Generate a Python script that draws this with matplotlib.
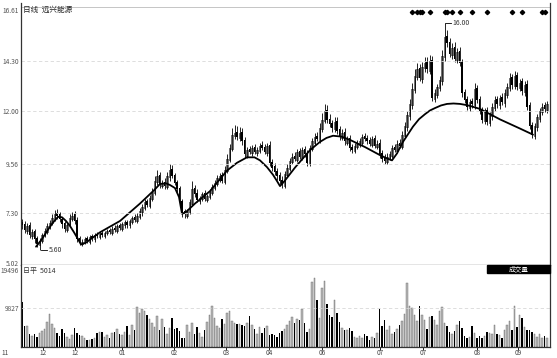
import matplotlib
matplotlib.use("Agg")
import matplotlib.pyplot as plt
import numpy as np

plt.rcParams['font.family'] = ['Noto Sans CJK SC', 'DejaVu Sans']

# daily candles (index = trading day)
opens = [6.90, 6.80, 6.50, 6.75, 6.25, 6.50, 6.15, 5.85, 6.05, 6.30,
         6.45, 6.70, 6.85, 7.05, 7.30, 7.25, 7.05, 6.85, 6.55, 6.80,
         7.05, 7.25, 7.00, 6.15, 5.90, 6.00, 6.15, 6.00, 6.25, 6.10,
         6.35, 6.20, 6.40, 6.25, 6.40, 6.55, 6.40, 6.65, 6.50, 6.75,
         6.60, 6.75, 6.90, 6.75, 6.90, 7.15, 6.95, 7.15, 7.35, 7.55,
         7.85, 7.65, 7.95, 8.25, 8.75, 9.05, 8.55, 8.75, 8.50, 8.95,
         9.35, 9.05, 8.75, 8.45, 7.85, 7.40, 7.20, 7.35, 7.75, 8.45,
         8.25, 7.85, 7.95, 8.25, 7.90, 8.05, 8.25, 8.45, 8.65, 8.85,
         9.05, 8.75, 9.25, 9.75, 10.25, 10.85, 11.05, 10.75, 11.05, 10.65,
         9.95, 10.25, 10.05, 10.35, 10.05, 10.15, 10.45, 10.35, 10.05, 10.45,
         9.65, 9.45, 9.25, 9.05, 8.85, 8.55, 9.05, 9.35, 9.65, 9.95,
         9.75, 10.15, 9.85, 10.25, 10.05, 9.55, 10.25, 10.55, 10.85, 10.65,
         11.15, 11.55, 12.05, 11.65, 11.45, 11.15, 11.55, 11.15, 10.75, 11.05,
         10.55, 10.75, 10.35, 10.15, 10.35, 10.45, 10.55, 10.85, 10.75, 10.65,
         10.45, 10.75, 10.35, 10.55, 10.05, 9.85, 9.65, 9.85, 9.95, 10.35,
         10.15, 10.55, 10.35, 10.85, 11.25, 11.75, 12.25, 12.95, 13.55, 13.95,
         13.45, 13.95, 14.25, 13.85, 14.35, 12.55, 12.75, 13.05, 13.35, 14.45,
         15.45, 15.15, 14.55, 14.95, 14.35, 14.75, 14.25, 12.85, 12.55, 12.15,
         12.45, 12.25, 13.05, 12.55, 12.05, 11.55, 12.05, 11.45, 11.75, 12.15,
         12.55, 12.25, 12.65, 12.35, 12.75, 13.05, 13.55, 13.15, 13.65, 13.05,
         13.35, 12.85, 13.25, 12.25, 11.35, 10.85, 11.25, 11.65, 11.95, 12.25, 12.05]
closes = [6.75, 6.55, 6.70, 6.30, 6.45, 6.10, 5.90, 6.05, 6.30, 6.50,
          6.70, 6.85, 7.10, 7.25, 7.20, 7.05, 6.80, 6.60, 6.75, 7.10,
          7.20, 6.95, 6.10, 5.95, 6.00, 6.10, 6.05, 6.20, 6.15, 6.30,
          6.25, 6.35, 6.30, 6.40, 6.50, 6.45, 6.60, 6.55, 6.70, 6.65,
          6.80, 6.90, 6.75, 6.95, 7.10, 7.00, 7.20, 7.40, 7.60, 7.80,
          7.70, 8.00, 8.30, 8.80, 9.00, 8.60, 8.70, 8.55, 9.00, 9.30,
          9.00, 8.70, 8.40, 7.80, 7.30, 7.25, 7.40, 7.80, 8.40, 8.20,
          7.90, 8.00, 8.20, 7.95, 8.10, 8.30, 8.50, 8.70, 8.90, 9.00,
          8.80, 9.30, 9.80, 10.30, 10.90, 11.00, 10.80, 11.00, 10.60, 10.00,
          10.20, 10.10, 10.30, 10.10, 10.20, 10.40, 10.30, 10.10, 10.40, 9.60,
          9.40, 9.20, 9.00, 8.80, 8.60, 9.10, 9.40, 9.70, 9.90, 9.80,
          10.10, 9.90, 10.20, 10.00, 9.60, 10.30, 10.60, 10.80, 10.70, 11.20,
          11.60, 12.00, 11.60, 11.40, 11.20, 11.50, 11.10, 10.80, 11.00, 10.60,
          10.70, 10.30, 10.20, 10.40, 10.50, 10.60, 10.80, 10.70, 10.60, 10.50,
          10.70, 10.40, 10.50, 10.00, 9.80, 9.70, 9.90, 10.00, 10.30, 10.20,
          10.50, 10.40, 10.90, 11.30, 11.80, 12.30, 13.00, 13.60, 13.90, 13.50,
          14.00, 14.20, 13.90, 14.30, 12.60, 12.80, 13.10, 13.40, 14.50, 15.40,
          15.10, 14.60, 14.90, 14.40, 14.70, 14.20, 12.80, 12.50, 12.20, 12.40,
          12.30, 13.00, 12.50, 12.00, 11.60, 12.00, 11.50, 11.80, 12.20, 12.50,
          12.30, 12.60, 12.40, 12.80, 13.10, 13.50, 13.20, 13.60, 13.10, 13.30,
          12.90, 13.20, 12.20, 11.30, 10.90, 11.30, 11.70, 12.00, 12.20, 12.10, 12.30]
highs = [7.05, 6.95, 6.85, 6.90, 6.60, 6.60, 6.25, 6.15, 6.40, 6.65,
         6.85, 7.00, 7.25, 7.45, 7.50, 7.35, 7.15, 6.95, 6.90, 7.25,
         7.35, 7.40, 7.15, 6.25, 6.10, 6.20, 6.25, 6.30, 6.35, 6.40,
         6.45, 6.45, 6.50, 6.50, 6.60, 6.65, 6.70, 6.75, 6.80, 6.85,
         6.90, 7.00, 7.00, 7.05, 7.20, 7.25, 7.30, 7.55, 7.75, 7.95,
         7.95, 8.15, 8.45, 9.00, 9.30, 9.20, 8.85, 8.90, 9.20, 9.55,
         9.50, 9.15, 8.85, 8.55, 7.95, 7.50, 7.50, 7.95, 8.80, 8.60,
         8.40, 8.10, 8.30, 8.35, 8.20, 8.40, 8.65, 8.85, 9.05, 9.15,
         9.20, 9.45, 10.00, 10.50, 11.20, 11.35, 11.30, 11.25, 11.20, 10.80,
         10.35, 10.40, 10.45, 10.50, 10.35, 10.55, 10.60, 10.50, 10.55, 10.60,
         9.80, 9.60, 9.40, 9.20, 9.00, 9.25, 9.55, 9.85, 10.05, 10.10,
         10.25, 10.30, 10.35, 10.40, 10.20, 10.45, 10.75, 11.00, 11.05, 11.45,
         11.90, 12.30, 12.25, 11.85, 11.60, 11.70, 11.70, 11.30, 11.15, 11.20,
         10.85, 10.90, 10.50, 10.55, 10.65, 10.75, 10.95, 11.00, 10.90, 10.80,
         10.85, 10.90, 10.65, 10.70, 10.20, 10.00, 10.05, 10.15, 10.45, 10.50,
         10.65, 10.70, 11.10, 11.50, 12.00, 12.55, 13.30, 13.90, 14.20, 14.15,
         14.25, 14.45, 14.45, 14.55, 14.50, 13.00, 13.25, 13.60, 14.80, 16.00,
         15.70, 15.35, 15.10, 15.15, 14.90, 14.95, 14.40, 13.00, 12.70, 12.55,
         12.60, 13.30, 13.20, 12.70, 12.20, 12.15, 12.20, 11.95, 12.35, 12.70,
         12.70, 12.75, 12.80, 13.00, 13.30, 13.75, 13.70, 13.85, 13.80, 13.45,
         13.50, 13.35, 13.40, 12.40, 11.50, 11.45, 11.85, 12.15, 12.35, 12.40, 12.45]
lows = [6.60, 6.40, 6.35, 6.15, 6.10, 5.95, 5.75, 5.60, 5.95, 6.20,
        6.35, 6.60, 6.75, 6.95, 7.05, 6.90, 6.65, 6.45, 6.45, 6.70,
        6.95, 6.80, 6.00, 5.85, 5.80, 5.90, 5.95, 5.90, 6.05, 6.00,
        6.15, 6.10, 6.20, 6.15, 6.30, 6.35, 6.30, 6.45, 6.40, 6.55,
        6.50, 6.65, 6.65, 6.65, 6.80, 6.90, 6.85, 7.05, 7.20, 7.45,
        7.60, 7.55, 7.85, 8.15, 8.60, 8.45, 8.45, 8.40, 8.40, 8.80,
        8.90, 8.60, 8.30, 7.65, 7.15, 7.10, 7.10, 7.25, 7.65, 8.05,
        7.80, 7.75, 7.85, 7.85, 7.80, 7.95, 8.15, 8.35, 8.55, 8.75,
        8.70, 8.65, 9.15, 9.65, 10.15, 10.70, 10.65, 10.60, 10.45, 9.85,
        9.85, 10.00, 9.95, 10.00, 9.95, 10.05, 10.20, 10.00, 9.95, 9.45,
        9.25, 9.05, 8.85, 8.65, 8.45, 8.45, 8.95, 9.25, 9.55, 9.70,
        9.65, 9.80, 9.75, 9.90, 9.45, 9.45, 10.15, 10.45, 10.60, 10.55,
        11.05, 11.45, 11.45, 11.25, 11.05, 11.05, 10.95, 10.65, 10.65, 10.45,
        10.45, 10.15, 10.05, 10.05, 10.25, 10.35, 10.45, 10.60, 10.50, 10.40,
        10.35, 10.30, 10.25, 9.85, 9.65, 9.55, 9.55, 9.75, 9.85, 10.10,
        10.05, 10.30, 10.25, 10.75, 11.10, 11.60, 12.10, 12.80, 13.40, 13.35,
        13.30, 13.80, 13.75, 13.70, 12.45, 12.40, 12.60, 12.90, 13.20, 14.30,
        14.95, 14.45, 14.40, 14.25, 14.20, 14.05, 12.65, 12.35, 12.05, 12.00,
        12.15, 12.10, 12.35, 11.85, 11.45, 11.40, 11.35, 11.30, 11.60, 12.00,
        12.15, 12.10, 12.25, 12.20, 12.60, 12.90, 13.00, 13.00, 12.95, 12.90,
        12.75, 12.70, 12.05, 11.15, 10.75, 10.70, 11.10, 11.50, 11.80, 11.95, 11.90]
volumes = [11450, 5200, 5400, 3300, 2800, 3300, 2500, 3500, 4000, 4500, 6400,
           8300, 5800, 4800, 3600, 2800, 4500, 3600, 2500, 2000, 3000,
           4900, 3600, 3000, 2800, 2200, 1800, 1700, 2000, 2400, 3500,
           3800, 3900, 2600, 3000, 2200, 3500, 3800, 4500, 3400, 3000,
           3800, 5300, 3000, 5600, 4200, 10200, 8500, 9500, 9000, 8000,
           7000, 6200, 5000, 7800, 4200, 7200, 5000, 3200, 4800, 7300,
           4500, 4700, 4000, 2200, 2300, 5600, 3800, 6000, 3400, 5000,
           3500, 2500, 4200, 6300, 8000, 10300, 7400, 5300, 4800,
           7000, 5800, 8500, 9000, 6500, 6000, 5800, 5800, 5600, 5400,
           6200, 7800, 5600, 4500, 3400, 5000, 3600, 4700, 5200, 3000,
           3200, 3000, 2600, 3500, 4000, 4500, 5600, 6500, 7600, 6200,
           7000, 6800, 9500, 6200, 3700, 4500, 16500, 17500, 12000, 7400,
           15000, 16800, 11000, 8000, 7500, 12000, 8500, 6300, 4800, 4400,
           4300, 4800, 4000, 2500, 2200, 2800, 2200, 3300, 2700, 1800,
           2600, 2200, 3500, 9500, 5200, 6900, 4300, 5300, 3200, 3800,
           4500, 5600, 6500, 8300, 16300, 10500, 9800, 8200, 6500, 10300,
           8000, 6800, 4600, 7500, 7800, 6800, 5500, 9000, 10200, 6000,
           5400, 3800, 3300, 4000, 5600, 6500, 4800, 2800, 2300, 2500,
           5200, 3500, 2400, 2800, 2300, 2700, 3800, 3500, 3300, 5500,
           3300, 3000, 2400, 4300, 5500, 6500, 4300, 10500, 5000, 8000,
           7400, 5000, 4300, 4400, 3700, 3200, 2600, 3200, 2200, 2800, 2400]

# smooth black trend curve (day index, price)
curve_x = [5.6, 8, 10, 12.2, 14.4, 16, 17.6, 19.2, 20.8, 22.4, 23.6, 25.5, 31.2,
           39.2, 47.2, 53, 55.2, 57.5, 59.2, 61.2, 62.8, 64, 65.5, 69.2, 75.2, 82,
           86, 90, 93, 95.2, 98, 100.4, 102, 103.2, 105, 109.2, 115.2, 119.2,
           121.8, 124.4, 127.8, 131.2, 137.2, 143.2, 146, 148, 150, 152.4, 156.4,
           158.8, 161.2, 163.2, 165.2, 167.6, 170, 172.6, 175.2, 177.2, 179.2,
           183.2, 191.2, 199.2, 204.4]
curve_y = [5.77, 6.12, 6.48, 6.85, 7.14, 7.12, 6.95, 6.72, 6.43, 6.12, 5.87,
           5.95, 6.43, 6.95, 7.75, 8.38, 8.65, 8.68, 8.60, 8.46, 8.05, 7.28,
           7.35, 7.75, 8.32, 9.26, 9.62, 9.87, 9.87, 9.73, 9.42, 9.07, 8.78, 8.55,
           8.78, 9.40, 10.20, 10.58, 10.76, 10.86, 10.82, 10.67, 10.34, 9.97,
           9.82, 9.73, 10.05, 10.58, 11.28, 11.62, 11.85, 12.02, 12.13, 12.25,
           12.32, 12.34, 12.32, 12.28, 12.23, 12.09, 11.61, 11.19, 10.91]

signal_days = [156, 158, 159, 160, 163, 169, 170, 172, 175, 180, 186, 196, 200, 208, 209]

price_ticks = [16.61, 14.30, 12.00, 9.56, 7.30, 5.02]
vol_ticks = [19496, 9827]
month_pos = [-6.8, 8.4, 21.2, 40, 60.8, 81.6, 98.8, 120, 143.2, 160.4, 182, 198.4]
month_labels = ['11', '12', '12', '01', '02', '03', '04', '06', '07', '07', '08', '09']

W, H = 557, 358
fig = plt.figure(figsize=(W / 100, H / 100), dpi=100)

def frac(x0, y0, x1, y1):
    return [x0 / W, 1 - y1 / H, (x1 - x0) / W, (y1 - y0) / H]

ax = fig.add_axes(frac(21, 3, 550, 265))
axv = fig.add_axes(frac(21, 265, 550, 347), sharex=ax)

idx = np.arange(len(closes))
o = np.array(opens); c = np.array(closes)
up = c >= o
body_w = 0.62

ax.vlines(idx, lows, highs, color='black', lw=0.6)
ax.bar(idx[up], (c - o)[up], bottom=o[up], width=body_w, facecolor='white',
       edgecolor='black', lw=0.4)
ax.bar(idx[~up], (o - c)[~up], bottom=c[~up], width=body_w, color='black', lw=0)
ax.plot(curve_x, curve_y, color='black', lw=1.3, solid_capstyle='round',
        solid_joinstyle='round')

ax.plot(signal_days, [16.55] * len(signal_days), 'D', color='black', ms=2.2)

# extreme labels
ax.plot([7.5, 10], [5.60, 5.60], color='black', lw=0.6)
ax.text(10.6, 5.60, '5.60', fontsize=5, va='center', color='#333333')
ax.plot([169, 169, 171.5], [16.00, 16.05, 16.05], color='black', lw=0.6)
ax.text(172, 16.05, '16.00', fontsize=5, va='center', color='#333333')

ax.set_xlim(-0.4, 211.2)
ax.set_ylim(4.93, 16.95)
ax.set_yticks(price_ticks)
ax.set_yticklabels(['%.2f' % v for v in price_ticks])
ax.axhline(16.75, color='#bbbbbb', lw=0.6)
for v in price_ticks[1:5]:
    ax.axhline(v, color='#d8d8d8', lw=0.6, ls=(0, (4, 3)))
ax.tick_params(axis='y', length=0, labelsize=4.8, labelcolor='#555555', pad=1.5)
ax.tick_params(axis='x', length=0, labelbottom=False)
ax.spines['top'].set_visible(False)
for s in ['left', 'right', 'bottom']:
    ax.spines[s].set_color('#333333')
    ax.spines[s].set_linewidth(0.9)

ax.text(0.5, 16.65, '日线  远兴能源', fontsize=5.5, va='center', color='#222222')

# volume panel
v = np.array(volumes)
axv.bar(idx[up], v[up], width=body_w, facecolor='#b8b8b8', edgecolor='#6a6a6a', lw=0.3)
axv.bar(idx[~up], v[~up], width=body_w, color='black', lw=0)
axv.set_ylim(0, 20760)
axv.set_yticks(vol_ticks)
axv.set_yticklabels([str(t) for t in vol_ticks])
axv.axhline(9827, color='#d8d8d8', lw=0.6, ls=(0, (4, 3)))
axv.tick_params(axis='y', length=0, labelsize=4.8, labelcolor='#555555', pad=1.5)
axv.tick_params(axis='x', length=2, width=0.6, labelbottom=False)
axv.set_xticks([p for p in month_pos if p > 0])
axv.spines['top'].set_visible(False)
for s in ['left', 'right', 'bottom']:
    axv.spines[s].set_color('#333333')
    axv.spines[s].set_linewidth(0.9)

axv.text(0.5, 19300, '日平  5014', fontsize=5, va='center', color='#333333')
axv.add_patch(plt.Rectangle((0.881, 0.90), 0.119, 0.10, transform=axv.transAxes,
                            color='black', zorder=3, clip_on=False))
axv.text(0.94, 0.95, '成交量', transform=axv.transAxes, fontsize=4.8, color='white',
         ha='center', va='center', zorder=4)

for p, lab in zip(month_pos, month_labels):
    axv.text(p, -0.072, lab, transform=axv.get_xaxis_transform(), fontsize=4.6,
             ha='center', va='center', color='#444444', clip_on=False)

fig.savefig('out.png', dpi=100, facecolor='white')
